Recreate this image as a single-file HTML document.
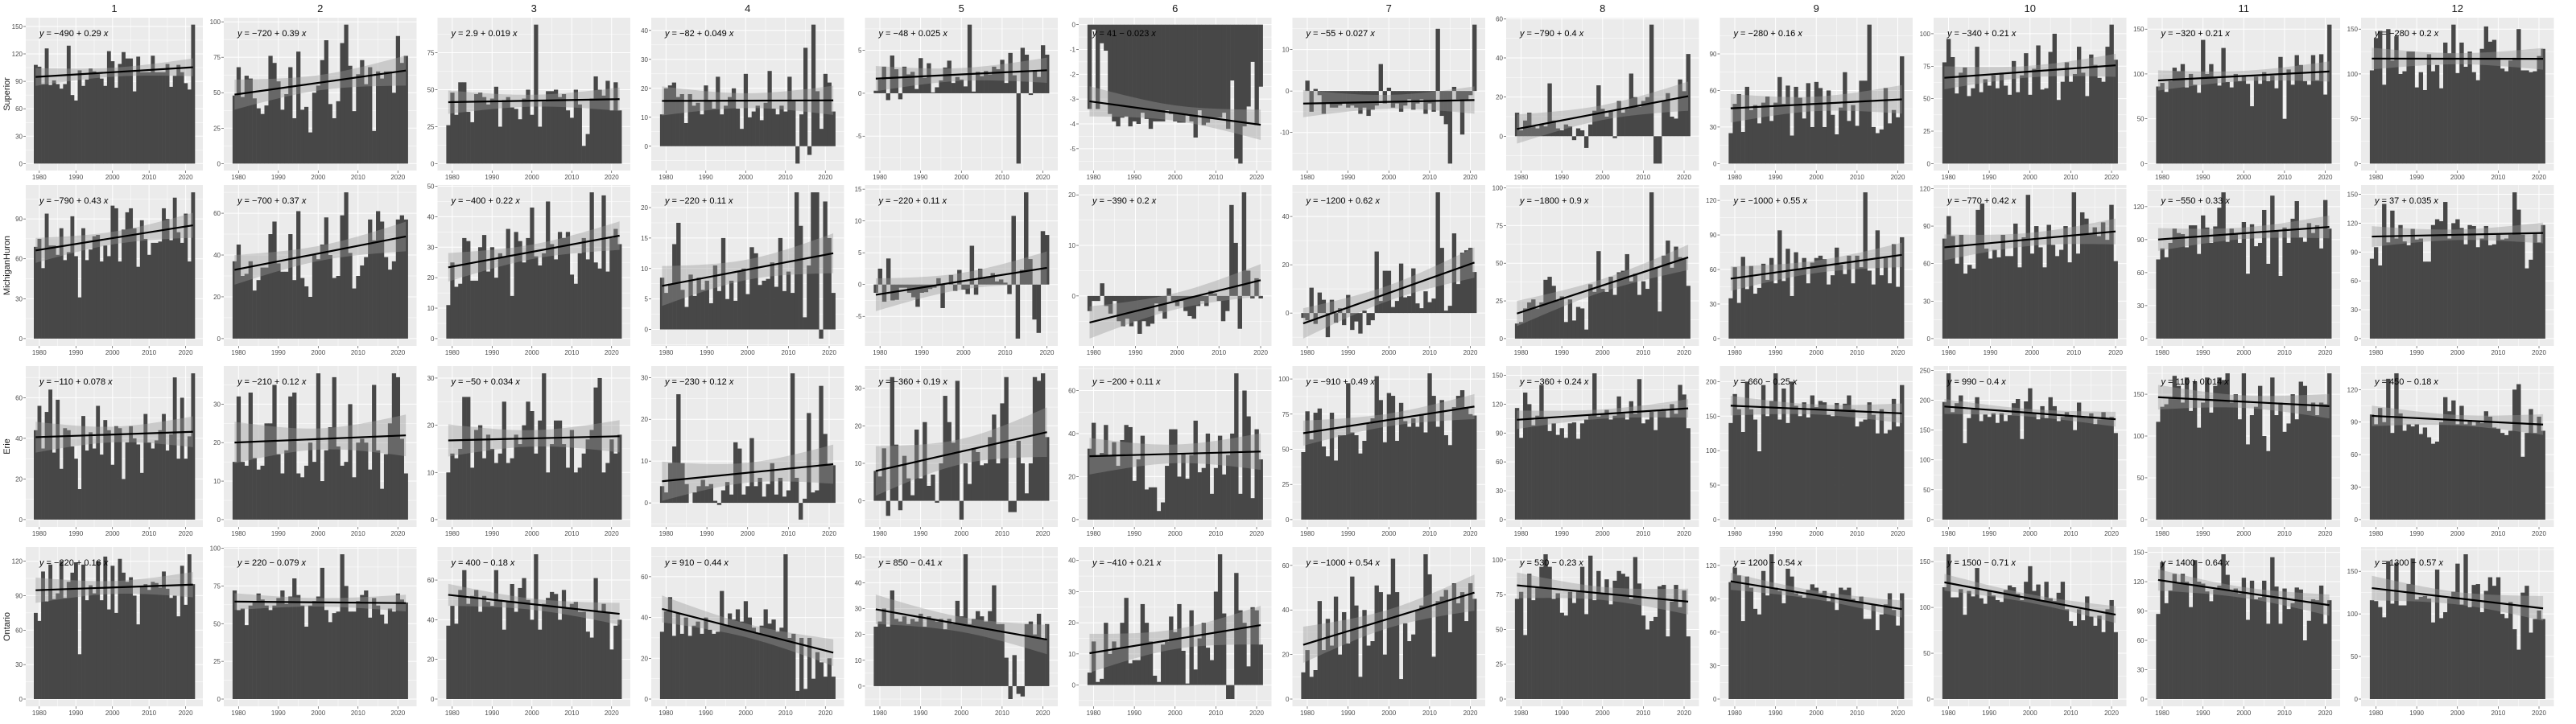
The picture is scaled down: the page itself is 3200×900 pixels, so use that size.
<!DOCTYPE html>
<html><head><meta charset="utf-8"><style>
html,body{margin:0;padding:0;background:#fff;}
svg{display:block;font-family:"Liberation Sans",sans-serif;}
</style></head><body>
<svg id="chart" width="3200" height="900" viewBox="0 0 3200 900"></svg>
<script>
// ---- data (values per year starting 1979) ----
const lakes = ["Superior","MichiganHuron","Erie","Ontario"];
const months = ["1","2","3","4","5","6","7","8","9","10","11","12"];
const sup01=[108,106,87,126,86,91,87,82,87,129,75,69,102,85,92,104,101,98,93,85,123,112,83,109,122,115,115,79,117,100,100,100,118,100,100,100,109,84,96,108,100,88,81,152];
const sup02=[48,68,47,62,60,46,39,35,41,76,71,58,38,49,68,32,79,38,40,22,50,55,73,87,42,32,44,85,98,69,37,63,73,56,68,23,65,60,65,65,50,90,71,76];
const sup03=[26,48,33,55,55,35,28,47,48,45,40,44,52,25,43,45,38,37,30,44,50,33,94,25,42,49,49,50,45,47,36,31,50,40,12,20,44,59,50,46,56,36,55,36];
const sup04=[11,20,21,22,17,18,8,18,14,15,11,21,16,13,24,11,14,17,20,13,6,25,10,12,14,9,15,26,13,11,14,12,24,16,-6,11,34,-3,42,19,6,25,22,12];
const sup05=[0.3,1.6,3.1,-0.8,4.4,2.8,-0.7,3.1,2.2,2.5,0.5,4.1,1.8,3.5,0.1,0.7,1.5,3.0,3.8,1.2,1.9,1.6,0.8,8.0,0.2,2.5,2.0,2.6,2.2,3.1,2.8,3.9,1.2,4.7,2.1,-8.2,5.3,4.5,-0.2,2.7,1.9,5.6,4.5];
const sup06=[-3.4,-0.2,-3.4,-0.75,-1.05,-3.6,-3.9,-4.1,-3.75,-3.7,-4.1,-3.9,-4.0,-3.55,-3.8,-4.2,-3.9,-3.9,-3.9,-3.45,-3.6,-3.9,-3.95,-3.95,-3.6,-3.9,-4.55,-3.45,-4.05,-3.95,-3.8,-3.75,-3.75,-3.55,-4.2,-2.25,-5.4,-5.6,-4.1,-3.3,-1.5,-4.05,-2.5];
const sup07=[0,2.5,-5,0.5,-1,-5.5,-3,-4,-4,-3.5,-3,-4,-3.5,-4,-5.5,-4,-6,-4.5,-3.5,6.5,-3,0.8,-4,-3,-5,-3.5,-2,-4.5,-3,-2,-5.5,-3,-5,15,-6,-8,-17.5,1,-2,-10.5,-2,-1,16];
const sup08=[12,3,8,12,5,4,6,5,27,8,4,3,6,5,-2,4,3,-6,6,13,26,14,10,13,-1,18,12,14,32,20,15,18,20,57,-14,-14,18,22,10,9,29,23,42];
const sup09=[25,49,57,26,63,44,48,33,50,55,35,50,71,49,64,23,63,54,37,66,30,67,62,30,60,40,24,46,75,35,48,31,68,68,114,30,25,28,62,33,44,38,88];
const sup10=[78,96,82,54,70,74,52,58,90,55,65,60,68,58,70,60,53,79,55,68,85,53,73,91,57,58,86,100,49,63,78,63,69,90,70,52,84,76,66,63,90,107,80];
const sup11=[86,90,80,92,107,103,111,85,100,88,79,138,100,111,95,87,129,91,85,100,92,98,89,64,97,89,102,92,98,84,119,50,105,88,121,110,92,88,121,93,122,77,155];
const sup12=[104,140,148,88,150,115,142,100,103,125,125,85,102,82,122,103,110,84,135,123,155,101,135,108,125,102,93,128,153,136,138,118,106,103,115,118,150,104,104,102,103,120,128];
const mh01=[69,75,53,94,70,70,63,83,59,65,92,62,31,83,59,67,77,78,58,70,62,100,98,58,82,95,98,83,54,89,75,63,72,72,73,98,90,74,106,80,72,94,58,110];
const mh02=[37,45,30,31,37,23,28,34,34,50,56,36,32,32,50,28,61,29,25,20,40,38,45,58,40,29,30,59,70,41,24,30,35,39,57,47,61,56,39,33,37,57,59,57];
const mh03=[11,25,17,18,33,32,19,19,30,34,22,30,20,28,27,36,14,35,32,25,33,43,27,24,28,45,31,26,35,33,35,21,18,28,33,26,48,25,23,47,22,33,36,31];
const mh04=[8.5,6,7.5,14,17.5,6.5,3.7,9,5.5,8.5,6.5,8,4.3,10.5,6.3,15,5,8,4.7,9.5,10,5.8,13.5,12.5,7.3,8,8.3,11,7,15,6.3,9.5,6,22.5,17,2,10.5,22.5,22.5,-1.5,21,15,6];
const mh05=[-1.3,2.5,-2.7,4.1,-2.5,-2.4,-0.5,-0.5,-1.3,-2,-3.5,-1.3,-1.2,-0.7,-0.5,1,-3.7,0,1.5,-1,2.3,-0.8,-1.5,6.1,-1.6,2.5,1,1.3,1.8,0.5,0.8,0.3,-1.5,10.8,-8.5,2.3,14.5,4,-5.5,-7.6,8.4,7.8];
const mh06=[-3,-1,-1,2.5,-2,-3.5,-1,-5,-6,-4.5,-6,-5,-7.5,-5,-6,-5.5,-1.5,-3,-4.5,1.5,-1,-2,-1,-3,-4,-4.5,-2,-1,-2,1,0.5,-1,-5,-3,18,10.5,-6.5,20.5,5,-0.5,3.5,-0.5];
const mh07=[-2,-3,10.5,-4.5,8.5,5.5,-10,5.5,-4,2,-5,7.5,-7,-3.5,-8.5,1,-5,-3,25.5,5,17.5,17.5,2.5,5,20.5,6.5,7,18.5,4,2,9,4.5,6,50,27,1,3,33,12,25,26,27,17];
const mh08=[10,11,20,24,26,20,24,39,41,35,25,28,11,26,12,21,20,6,36,31,58,33,31,41,29,44,45,56,38,43,29,38,33,97,47,18,55,65,47,61,54,53,35];
const mh09=[35,62,31,71,43,63,39,44,65,51,70,48,94,50,78,37,75,60,70,48,66,70,72,69,47,55,79,64,56,72,48,72,62,127,59,47,94,55,70,48,82,45,88];
const mh10=[80,98,82,60,83,52,59,56,103,108,72,64,71,65,83,66,66,92,57,81,115,68,90,73,57,91,75,66,71,90,61,117,68,101,96,84,89,82,93,79,107,62];
const mh11=[72,82,74,87,100,96,95,83,103,103,77,112,101,87,102,119,133,88,100,95,87,106,59,104,84,87,117,68,130,98,57,101,87,109,125,92,88,105,96,103,82,126,100];
const mh12=[83,95,76,140,100,133,104,118,101,97,114,103,104,80,80,118,124,122,142,104,120,124,115,98,118,117,95,104,117,97,98,108,103,104,108,152,134,108,73,82,109,100,118];
const er01=[44,56,35,53,64,33,59,25,45,44,36,30,15,51,34,43,35,56,32,49,44,27,46,45,20,38,46,40,37,23,52,38,35,39,44,52,34,42,70,30,60,30,41,72];
const er02=[15,32,15,14,33,16,13,14,25,25,35,17,12,18,32,33,12,11,14,20,15,38,10,18,24,37,19,14,15,30,11,20,21,20,13,35,18,8,17,25,38,37,21,12];
const er03=[10,14,13,15,26,26,11,19,20,13,18,15,12,14,25,12,13,18,16,20,25,23,14,21,31,10,16,21,21,16,11,19,10,11,14,17,19,28,30,10,12,17,14,18];
const er04=[4,2.5,9.5,13.5,26,9.5,4.5,0,2.5,4,5.5,4,4.5,0.5,-0.5,3,5,2,14.5,13,2,4,15.5,4,6,1.5,4.5,9.5,2,6,1.5,3,31,6,-4,1,21.5,2.5,3,28,16.5,9,9];
const er05=[8,6.5,14,-4,33,15,-2.5,12,6,1.5,19,6,21,4,7,-0.5,10,28,21,15.5,32,-5,10,4.5,14,13,9.5,10,17,23,10,26,33,-3,-3,16,10,2,10,33,32,34,17];
const er06=[33,45,30,31,44,30,36,25,37,44,43,18,28,39,14,15,15,4,8,25,42,42,20,31,19,30,46,22,24,40,12,24,39,21,30,40,68,12,60,48,10,42,28];
const er07=[48,77,57,76,79,52,45,76,42,60,60,97,62,60,47,56,68,72,102,85,55,90,88,56,83,70,66,72,66,75,62,104,88,66,85,60,53,80,88,92,80,75,74];
const er08=[116,85,132,120,98,108,140,105,92,100,88,95,85,100,101,84,100,104,108,152,107,110,114,104,108,128,110,104,123,110,146,100,104,112,93,114,115,106,120,110,140,130,95];
const er09=[140,182,160,127,200,160,145,99,195,150,172,212,145,190,140,200,165,150,170,148,180,163,172,170,152,150,169,160,168,180,160,135,142,145,170,152,125,160,125,130,175,135,195];
const er10=[197,245,180,195,208,128,170,185,205,165,176,172,178,162,178,165,175,195,202,135,198,220,178,168,190,170,205,190,165,172,180,175,150,196,172,170,178,160,168,180,170,172,145];
const er11=[117,135,138,145,172,160,140,170,130,165,110,140,170,128,160,170,167,175,140,150,120,175,90,125,135,160,100,82,170,125,140,105,115,150,120,165,160,130,140,125,140,138,175];
const er12=[97,88,103,90,130,80,135,98,82,88,86,88,79,85,76,70,72,90,113,100,110,88,105,88,92,87,90,89,100,95,85,84,80,78,82,120,125,58,80,102,80,95,82];
const on01=[75,68,111,85,117,87,92,120,88,102,110,119,39,117,86,99,92,120,86,124,78,116,75,122,110,102,106,90,65,98,100,95,102,101,97,111,96,88,90,72,116,82,126,100];
const on02=[72,59,60,49,62,65,70,66,62,59,62,67,72,63,68,80,69,62,48,62,65,68,87,59,51,57,58,96,75,58,58,65,69,72,54,67,62,56,50,60,58,70,66,64];
const on03=[37,47,38,55,65,48,52,55,44,52,49,47,65,50,35,49,58,44,56,61,50,40,73,35,48,51,54,53,40,55,46,48,49,44,44,34,31,61,44,48,44,25,37,40];
const on04=[33,43,50,31,42,32,40,31,36,38,32,40,34,32,33,53,36,42,39,44,38,48,40,35,32,36,44,37,39,33,35,71,30,32,4,30,5,30,10,23,18,11,20,11];
const on05=[23,25,30,23,37,26,25,27,24,26,25,28,23,27,26,25,26,22,26,24,33,27,51,24,26,29,27,25,29,39,24,24,11,-5,12,-3,-4,24,25,20,28,18,24];
const on06=[4,14,1,2,20,10,14,12,20,28,7,8,8,26,20,14,3,1,13,14,22,17,26,11,0.5,24,5,15,20,12,8,30,42,23,-4.5,-4.5,36,24,20,6,25,24,13];
const on07=[12,22,10,13,44,22,36,24,46,20,39,25,55,42,10,40,24,26,51,48,20,47,63,48,9,34,26,29,40,42,65,56,19,44,46,49,30,52,43,48,35,52,45];
const on08=[72,77,46,90,71,80,95,104,95,72,76,62,60,77,69,77,95,61,103,71,92,76,86,68,85,92,90,88,72,102,83,60,50,56,59,81,82,45,70,82,66,78,45];
const on09=[105,118,111,70,110,100,81,76,115,93,130,100,97,86,117,110,95,93,91,98,103,100,95,97,88,95,80,100,98,100,90,88,92,72,72,85,62,76,85,95,80,66,95];
const on10=[122,158,111,111,120,92,118,112,143,110,104,118,113,108,106,119,124,122,115,108,128,145,118,125,108,128,110,107,116,128,98,85,80,98,86,112,90,80,91,73,98,108,73];
const on11=[87,140,98,111,128,118,128,120,94,142,120,118,110,100,112,116,148,127,110,113,108,124,81,121,102,104,121,77,145,115,77,113,92,98,114,112,60,80,102,101,116,77,101];
const on12=[116,115,108,96,162,112,160,110,110,135,165,117,120,121,118,90,152,95,102,118,126,159,111,170,108,134,135,102,127,143,133,143,100,95,114,82,58,125,133,78,94,104,94];
const equations=[
["y = −490 + 0.29 x","y = −720 + 0.39 x","y = 2.9 + 0.019 x","y = −82 + 0.049 x","y = −48 + 0.025 x","y = 41 − 0.023 x","y = −55 + 0.027 x","y = −790 + 0.4 x","y = −280 + 0.16 x","y = −340 + 0.21 x","y = −320 + 0.21 x","y = −280 + 0.2 x"],
["y = −790 + 0.43 x","y = −700 + 0.37 x","y = −400 + 0.22 x","y = −220 + 0.11 x","y = −220 + 0.11 x","y = −390 + 0.2 x","y = −1200 + 0.62 x","y = −1800 + 0.9 x","y = −1000 + 0.55 x","y = −770 + 0.42 x","y = −550 + 0.33 x","y = 37 + 0.035 x"],
["y = −110 + 0.078 x","y = −210 + 0.12 x","y = −50 + 0.034 x","y = −230 + 0.12 x","y = −360 + 0.19 x","y = −200 + 0.11 x","y = −910 + 0.49 x","y = −360 + 0.24 x","y = 660 − 0.25 x","y = 990 − 0.4 x","y = 110 + 0.014 x","y = 450 − 0.18 x"],
["y = −220 + 0.16 x","y = 220 − 0.079 x","y = 400 − 0.18 x","y = 910 − 0.44 x","y = 850 − 0.41 x","y = −410 + 0.21 x","y = −1000 + 0.54 x","y = 530 − 0.23 x","y = 1200 − 0.54 x","y = 1500 − 0.71 x","y = 1400 − 0.64 x","y = 1300 − 0.57 x"]];
const panelData=[
[sup01,sup02,sup03,sup04,sup05,sup06,sup07,sup08,sup09,sup10,sup11,sup12],
[mh01,mh02,mh03,mh04,mh05,mh06,mh07,mh08,mh09,mh10,mh11,mh12],
[er01,er02,er03,er04,er05,er06,er07,er08,er09,er10,er11,er12],
[on01,on02,on03,on04,on05,on06,on07,on08,on09,on10,on11,on12]];
const firstYear=1979;
const xTicks=[1980,1990,2000,2010,2020];

// ---- layout ----
const NS="http://www.w3.org/2000/svg";
const svg=document.getElementById('chart');
const rowTop=[22,230,455,680], rowBot=[212,430,655,878];
function colR(k){return 252+k*265.5;}
function colL(k){return k===0?32:colR(k-1)+26;}
function mk(tag,attrs,parent){const e=document.createElementNS(NS,tag);for(const a in attrs)e.setAttribute(a,attrs[a]);(parent||svg).appendChild(e);return e;}
function niceStep(r){const raw=r/4;const p=Math.pow(10,Math.floor(Math.log10(raw)));const c=[1,2,2.5,3,5,10];let best=c[0]*p,bd=1e9;for(const q of c){const d=Math.abs(Math.log(q*p/raw));if(d<bd){bd=d;best=q*p;}}return best;}
function fmt(v){return (Math.round(v*1000)/1000).toString();}

function fit(xs,ys){const n=xs.length;let mx=0,my=0;for(let i=0;i<n;i++){mx+=xs[i];my+=ys[i];}mx/=n;my/=n;let sxx=0,sxy=0;for(let i=0;i<n;i++){sxx+=(xs[i]-mx)**2;sxy+=(xs[i]-mx)*(ys[i]-my);}const b=sxy/sxx,a=my-b*mx;let sse=0;for(let i=0;i<n;i++)sse+=(ys[i]-a-b*xs[i])**2;const s=Math.sqrt(sse/(n-2));return {a,b,mx,sxx,s,n};}

for(let r=0;r<4;r++){
  const yc=(rowTop[r]+rowBot[r])/2;
  const rl=mk('text',{x:12,y:yc,'font-size':11,fill:'#1a1a1a','text-anchor':'middle',transform:`rotate(-90 12 ${yc})`});
  rl.textContent=lakes[r];
  
  
  for(let k=0;k<12;k++){
    const vals=panelData[r][k];
    const g=mk('g',{});
    
    
    const L=colL(k),R=colR(k),T=rowTop[r],B=rowBot[r];
    const xs=vals.map((v,i)=>firstYear+i);
    const x0=firstYear-0.5,x1=firstYear+vals.length-0.5,xe=(x1-x0)*0.05;
    const xd0=x0-xe,xd1=x1+xe;
    const X=v=>L+(v-xd0)/(xd1-xd0)*(R-L);
    const f=fit(xs,vals);
    const t=2.02;
    const band=[];
    for(let j=0;j<=40;j++){const xv=xs[0]+(xs[xs.length-1]-xs[0])*j/40;const yh=f.a+f.b*xv;const se=f.s*Math.sqrt(1/f.n+(xv-f.mx)**2/f.sxx);band.push([xv,yh-t*se,yh+t*se]);}
    let lo=Math.min(0,...vals,...band.map(b=>b[1])),hi=Math.max(0,...vals,...band.map(b=>b[2]));
    const ye=(hi-lo)*0.05;const yd0=lo-ye,yd1=hi+ye;
    const Y=v=>B-(v-yd0)/(yd1-yd0)*(B-T);
    mk('rect',{x:L,y:T,width:R-L,height:B-T,fill:'#EBEBEB'},g);
    const step=niceStep(hi-lo);
    const ticks=[];for(let v=Math.ceil(yd0/step)*step;v<=yd1+1e-9;v+=step)ticks.push(Math.round(v*1e6)/1e6);
    for(let v=Math.ceil(yd0/step)*step-step/2;v<=yd1;v+=step){if(v>=yd0)mk('line',{x1:L,x2:R,y1:Y(v),y2:Y(v),stroke:'#fff','stroke-width':0.5},g);}
    for(let i=0;i<xTicks.length+1;i++){const v=1975+i*10;if(v>xd0&&v<xd1)mk('line',{x1:X(v),x2:X(v),y1:T,y2:B,stroke:'#fff','stroke-width':0.5},g);}
    for(const v of ticks){mk('line',{x1:L,x2:R,y1:Y(v),y2:Y(v),stroke:'#fff','stroke-width':1},g);
      mk('line',{x1:L-3,x2:L,y1:Y(v),y2:Y(v),stroke:'#333','stroke-width':0.6},g);
      const tl=mk('text',{x:L-4,y:Y(v)+3,'font-size':8,fill:'#4D4D4D','text-anchor':'end'},g);tl.textContent=fmt(v);
      
      }
    for(const v of xTicks){mk('line',{x1:X(v),x2:X(v),y1:T,y2:B,stroke:'#fff','stroke-width':1},g);
      mk('line',{x1:X(v),x2:X(v),y1:B,y2:B+3,stroke:'#333','stroke-width':0.6},g);
      const tl=mk('text',{x:X(v),y:B+11,'font-size':8,fill:'#4D4D4D','text-anchor':'middle'},g);tl.textContent=v;
      
      }
    const bw=X(1)-X(0);
    vals.forEach((v,i)=>{const y0=Y(0),y1=Y(v);const b=mk('rect',{x:X(xs[i])-bw/2,y:Math.min(y0,y1),width:bw+0.3,height:Math.abs(y1-y0),fill:'#474747'},g);
      
      });
    const pts=band.map(b=>X(b[0])+','+Y(b[2])).concat(band.slice().reverse().map(b=>X(b[0])+','+Y(b[1]))).join(' ');
    const bp=mk('polygon',{points:pts,fill:'#999999','fill-opacity':0.4},g);
    
    
    const ln=mk('line',{x1:X(xs[0]),y1:Y(f.a+f.b*xs[0]),x2:X(xs[xs.length-1]),y2:Y(f.a+f.b*xs[xs.length-1]),stroke:'#000','stroke-width':2.2},g);
    
    
    const eq=mk('text',{x:L+17,y:T+23,'font-size':11,fill:'#000'},g);
    eq.innerHTML='<tspan font-style="italic">y</tspan>'+equations[r][k].slice(1,-1)+'<tspan font-style="italic">x</tspan>';
    
    
    if(r===0){const st=mk('text',{x:(L+R)/2,y:15,'font-size':13,fill:'#1a1a1a','text-anchor':'middle'},g);st.textContent=months[k];
      
      }
  }
}
</script>
</body></html>
